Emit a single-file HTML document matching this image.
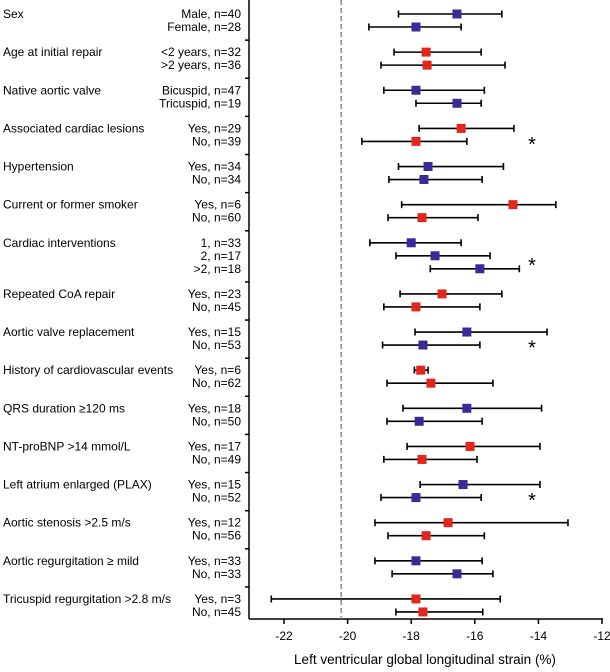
<!DOCTYPE html>
<html><head><meta charset="utf-8"><style>
body{margin:0;background:#fff;}
svg{font-family:"Liberation Sans",sans-serif;}
</style></head><body>
<svg id="c" width="610" height="667"></svg>
<script>
const groups=["Sex","Age at initial repair","Native aortic valve","Associated cardiac lesions","Hypertension","Current or former smoker","Cardiac interventions","Repeated CoA repair","Aortic valve replacement","History of cardiovascular events","QRS duration \u2265120 ms","NT-proBNP >14 mmol/L","Left atrium enlarged (PLAX)","Aortic stenosis >2.5 m/s","Aortic regurgitation \u2265 mild","Tricuspid regurgitation >2.8 m/s"];
const subLabels=[["Male, n=40","Female, n=28"],["<2 years, n=32",">2 years, n=36"],["Bicuspid, n=47","Tricuspid, n=19"],["Yes, n=29","No, n=39"],["Yes, n=34","No, n=34"],["Yes, n=6","No, n=60"],["1, n=33","2, n=17",">2, n=18"],["Yes, n=23","No, n=45"],["Yes, n=15","No, n=53"],["Yes, n=6","No, n=62"],["Yes, n=18","No, n=50"],["Yes, n=17","No, n=49"],["Yes, n=15","No, n=52"],["Yes, n=12","No, n=56"],["Yes, n=33","No, n=33"],["Yes, n=3","No, n=45"]];
const means=[[-16.56,-17.85],[-17.53,-17.5],[-17.85,-16.56],[-16.43,-17.85],[-17.47,-17.6],[-14.8,-17.66],[-18.0,-17.25,-15.84],[-17.03,-17.85],[-16.25,-17.63],[-17.7,-17.38],[-16.25,-17.75],[-16.15,-17.66],[-16.37,-17.85],[-16.84,-17.53],[-17.85,-16.56],[-17.85,-17.63]];
const lows=[[-18.4,-19.33],[-18.54,-18.95],[-18.86,-17.85],[-17.75,-19.55],[-18.4,-18.7],[-18.3,-18.73],[-19.3,-18.48,-17.4],[-18.35,-18.86],[-17.88,-18.9],[-17.9,-18.76],[-18.26,-18.76],[-18.13,-18.86],[-17.72,-18.95],[-19.14,-18.73],[-19.14,-18.6],[-22.4,-18.48]];
const highs=[[-15.15,-16.43],[-15.8,-15.05],[-15.7,-15.8],[-14.77,-16.25],[-15.1,-15.77],[-13.45,-15.9],[-16.43,-15.52,-14.6],[-15.15,-15.84],[-13.73,-15.84],[-17.47,-15.43],[-13.9,-15.77],[-13.95,-15.93],[-13.95,-15.8],[-13.07,-15.7],[-15.77,-15.43],[-15.2,-15.75]];
const redGroups=[false,true,false,true,false,true,false,true,false,true,false,true,false,true,false,true];
const significant=[false,false,false,true,false,false,true,false,true,false,false,false,true,false,false,false];
const xTicks=[-22,-20,-18,-16,-14,-12];
const refLine=-20.2;
const NS="http://www.w3.org/2000/svg";
const svg=document.getElementById('c');
const X0=284,X1=602,VMIN=-22,VMAX=-12;
const xs=v=>X0+(v-VMIN)/(VMAX-VMIN)*(X1-X0);
function mk(t,a,p){const e=document.createElementNS(NS,t);for(const k in a)e.setAttribute(k,a[k]);(p||svg).appendChild(e);return e;}
const ax=mk('line',{x1:249,y1:619,x2:603,y2:619,stroke:'#000','stroke-width':1.5});


const ay=mk('line',{x1:249,y1:0,x2:249,y2:619,stroke:'#000','stroke-width':1.5});


xTicks.forEach(t=>{
  const l=mk('line',{x1:xs(t),y1:619,x2:xs(t),y2:624,stroke:'#000','stroke-width':1.5});
  
  
  const tx=mk('text',{x:xs(t),y:640,'text-anchor':'middle','font-size':12});
  tx.textContent=String(t);
  
  
});
const tt=mk('text',{x:425,y:664,'text-anchor':'middle','font-size':13.5});
tt.textContent='Left ventricular global longitudinal strain (%)';


const rl=mk('line',{x1:xs(refLine),y1:0,x2:xs(refLine),y2:619,stroke:'#888','stroke-width':1.5,'stroke-dasharray':'5,3'});


let y=14;
groups.forEach((g,gi)=>{
  const gt=mk('text',{x:3,y:y+4,'font-size':12});
  gt.textContent=g;
  
  
  if(gi>0){const tk=mk('line',{x1:245,y1:y-12,x2:249,y2:y-12,stroke:'#000','stroke-width':1.5});
    
    }
  const col=redGroups[gi]?'#e3261c':'#3a2a98';
  subLabels[gi].forEach((s,si)=>{
    const yy=y+si*13;
    const st=mk('text',{x:241,y:yy+4,'text-anchor':'end','font-size':12});
    st.textContent=s;
    
    
    const a=xs(lows[gi][si]),b=xs(highs[gi][si]);
    const ln=mk('path',{d:`M${a},${yy}H${b}M${a},${yy-3.5}V${yy+3.5}M${b},${yy-3.5}V${yy+3.5}`,stroke:'#000','stroke-width':1.6,fill:'none'});
    
    
    const m=xs(means[gi][si]);
    const r=mk('rect',{x:m-4.5,y:yy-4.5,width:9,height:9,fill:col});
    
    
  });
  if(significant[gi]){
    const n=subLabels[gi].length;
    const as=mk('text',{x:532,y:y+13*(n-1)/2+16,'text-anchor':'middle','font-size':20});
    as.textContent='*';
    
    
  }
  y+=13*subLabels[gi].length+12.13;
});
</script>
</body></html>
